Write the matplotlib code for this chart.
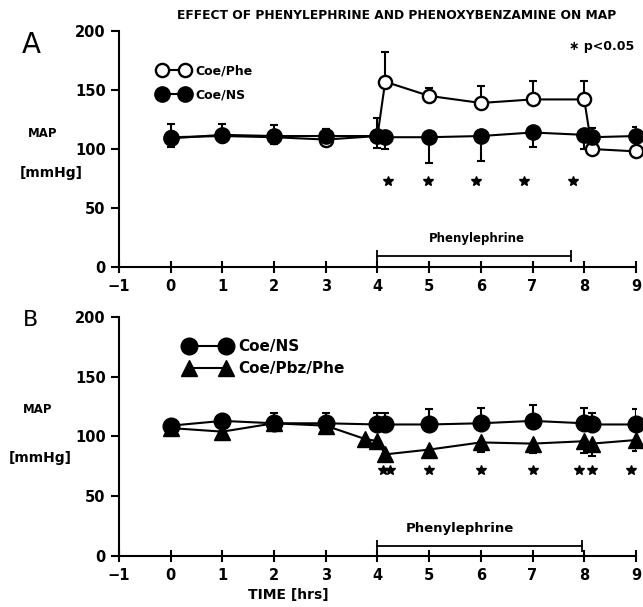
import numpy as np
import matplotlib
matplotlib.use("Agg")
import matplotlib.pyplot as plt

# ---- data ----
a_phe_x = [0, 1, 2, 3, 4, 4.15, 5, 6, 7, 8, 8.15, 9]
a_phe_y = [110, 111, 110, 108, 111, 157, 145, 139, 142, 142, 100, 98]
a_phe_up = [11, 10, 10, 9, 15, 25, 7, 14, 16, 16, 0, 0]

a_ns_x = [0, 1, 2, 3, 4, 4.15, 5, 6, 7, 8, 8.15, 9]
a_ns_y = [109, 112, 111, 111, 111, 110, 110, 111, 114, 112, 110, 111]
a_ns_lo = [7, 6, 7, 0, 10, 10, 22, 21, 12, 12, 0, 0]
a_ns_up = [0, 0, 0, 6, 0, 0, 0, 0, 0, 0, 8, 8]

b_ns_x = [0, 1, 2, 3, 4, 4.15, 5, 6, 7, 8, 8.15, 9]
b_ns_y = [109, 113, 111, 111, 110, 110, 110, 111, 113, 111, 110, 110]
b_ns_up = [0, 0, 9, 9, 10, 10, 13, 13, 13, 13, 10, 13]

b_pbz_x = [0, 1, 2, 3, 3.75, 4, 4.15, 5, 6, 7, 8, 8.15, 9]
b_pbz_y = [107, 104, 111, 109, 98, 96, 85, 89, 95, 94, 96, 94, 97]
b_pbz_lo = [0, 7, 0, 7, 0, 6, 0, 0, 8, 8, 10, 10, 9]

a_sig_x = [4.2, 4.98, 5.9, 6.84, 7.78]
b_sig_x = [4.1, 4.25, 5.0, 6.0, 7.0, 7.9, 8.15, 8.9]
sig_y = 73

a_phen_bar = [4.0, 7.75]
b_phen_bar = [4.0, 7.95]

x_ticks = list(range(-1, 10))
y_ticks = [0, 50, 100, 150, 200]

plt.rcParams['font.family'] = ['DejaVu Sans']
plt.rcParams['font.weight'] = 'bold'

fig = plt.figure(figsize=(6.43, 6.07), dpi=100)
axA = fig.add_axes([0.185, 0.560, 0.804, 0.389])
axB = fig.add_axes([0.185, 0.084, 0.804, 0.394])

def style(ax):
    ax.set_xlim(-1, 9)
    ax.set_ylim(0, 200)
    ax.spines['top'].set_visible(False)
    ax.spines['right'].set_visible(False)
    ax.spines['left'].set_linewidth(1.5)
    ax.spines['bottom'].set_linewidth(1.5)
    ax.set_xticks(x_ticks)
    ax.set_yticks(y_ticks)
    ax.tick_params(axis='x', direction='inout', length=9, width=1.5, labelsize=10.5, pad=4)
    ax.tick_params(axis='y', direction='out', length=6, width=1.5, labelsize=10.5)
    ax.set_xticklabels([str(t).replace('-', '\u2212') for t in x_ticks], fontweight='bold')
    ax.set_yticklabels([str(t) for t in y_ticks], fontweight='bold')

style(axA)
style(axB)

# Panel A
eb = dict(ecolor='black', elinewidth=1.5, capsize=3, capthick=1.5)
axA.errorbar(a_ns_x, a_ns_y, yerr=[a_ns_lo, a_ns_up], fmt='none', **eb, zorder=2)
axA.errorbar(a_phe_x, a_phe_y, yerr=[np.zeros(len(a_phe_up)), a_phe_up], fmt='none', **eb, zorder=2)
axA.plot(a_phe_x, a_phe_y, '-o', color='black', mfc='white', mec='black', mew=1.7,
         ms=9.5, lw=1.5, zorder=3, label='Coe/Phe', clip_on=False)
axA.plot(a_ns_x, a_ns_y, '-o', color='black', mfc='black', ms=11, lw=1.5, zorder=4,
         label='Coe/NS', clip_on=False)
axA.plot(a_sig_x, [sig_y] * len(a_sig_x), '*', color='black', ms=7, ls='none')
axA.plot(a_phen_bar, [9, 9], '-', color='black', lw=1.3, marker='|', ms=9, mew=1.3)
axA.text(np.mean(a_phen_bar) + 0.05, 24, 'Phenylephrine', ha='center', va='center',
         fontsize=8.5, fontweight='bold')
axA.text(7.7, 187, '\u2217 p<0.05', ha='left', va='center', fontsize=9, fontweight='bold')
axA.legend(loc='upper left', bbox_to_anchor=(0.055, 0.905), numpoints=2, frameon=False,
           handlelength=2.4, handletextpad=0.5, labelspacing=0.85,
           prop={'weight': 'bold', 'size': 9})

# Panel B
axB.errorbar(b_ns_x, b_ns_y, yerr=[np.zeros(len(b_ns_up)), b_ns_up], fmt='none', **eb, zorder=2)
axB.errorbar(b_pbz_x, b_pbz_y, yerr=[b_pbz_lo, np.zeros(len(b_pbz_lo))], fmt='none', **eb, zorder=2)
axB.plot(b_ns_x, b_ns_y, '-o', color='black', mfc='black', ms=12, lw=1.5, zorder=4,
         label='Coe/NS', clip_on=False)
axB.plot(b_pbz_x, b_pbz_y, '-^', color='black', mfc='black', ms=11, lw=1.5, zorder=3,
         label='Coe/Pbz/Phe', clip_on=False)
axB.plot(b_sig_x, [sig_y - 1] * len(b_sig_x), '*', color='black', ms=7, ls='none')
axB.plot(b_phen_bar, [8, 8], '-', color='black', lw=1.3, marker='|', ms=9, mew=1.3)
axB.text(5.6, 23, 'Phenylephrine', ha='center', va='center', fontsize=9.5, fontweight='bold')
axB.legend(loc='upper left', bbox_to_anchor=(0.1, 0.965), numpoints=2, frameon=False,
           handlelength=3.0, handletextpad=0.5, labelspacing=0.45,
           prop={'weight': 'bold', 'size': 11})

# Figure texts
fig.text(0.617, 0.975, 'EFFECT OF PHENYLEPHRINE AND PHENOXYBENZAMINE ON MAP',
         ha='center', va='center', fontsize=8.8, fontweight='bold')
fig.text(0.448, 0.02, 'TIME [hrs]', ha='center', va='center', fontsize=10, fontweight='bold')
fig.text(0.048, 0.926, 'A', ha='center', va='center', fontsize=20, fontweight='normal')
fig.text(0.048, 0.473, 'B', ha='center', va='center', fontsize=16, fontweight='normal')
fig.text(0.067, 0.78, 'MAP', ha='center', va='center', fontsize=8.5, fontweight='bold')
fig.text(0.08, 0.715, '[mmHg]', ha='center', va='center', fontsize=10, fontweight='bold')
fig.text(0.058, 0.325, 'MAP', ha='center', va='center', fontsize=8.5, fontweight='bold')
fig.text(0.063, 0.245, '[mmHg]', ha='center', va='center', fontsize=10, fontweight='bold')

fig.savefig('out.png', dpi=100, facecolor='white')
